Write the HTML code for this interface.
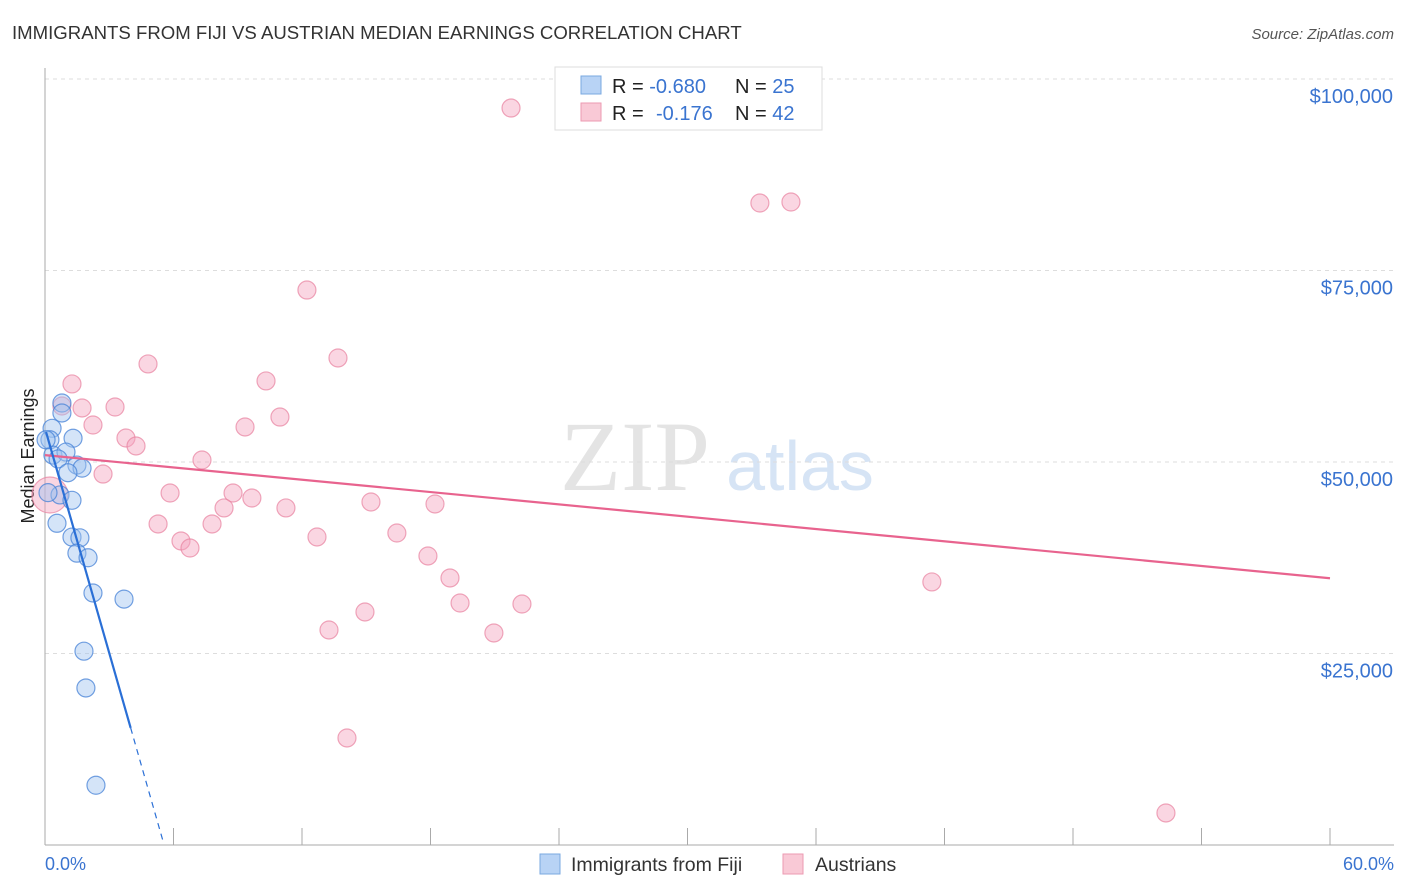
<!DOCTYPE html>
<html><head><meta charset="utf-8"><style>
body{margin:0;background:#fff;font-family:"Liberation Sans",sans-serif;}
svg{display:block}
</style></head><body>
<svg width="1406" height="892" xmlns="http://www.w3.org/2000/svg" id="chart">
<text x="12" y="39" font-size="18.6" fill="#333">IMMIGRANTS FROM FIJI VS AUSTRIAN MEDIAN EARNINGS CORRELATION CHART</text>
<text x="1394" y="39" font-size="15" fill="#555" text-anchor="end" font-style="italic">Source: ZipAtlas.com</text>
<text x="635" y="490" font-size="100" fill="#e4e4e4" font-family="Liberation Serif,serif" text-anchor="middle">ZIP</text>
<text x="800" y="490" font-size="70" fill="#d6e4f5" text-anchor="middle">atlas</text>
<g id="grid"></g>
<line x1="45" y1="68" x2="45" y2="845" stroke="#aaa"/>
<line x1="45" y1="845" x2="1394" y2="845" stroke="#aaa"/>
<text x="34" y="456" font-size="18" fill="#222" text-anchor="middle" transform="rotate(-90 34 456)">Median Earnings</text>
<text x="45" y="870" font-size="18" fill="#3a74d0">0.0%</text>
<text x="1394" y="870" font-size="18" fill="#3a74d0" text-anchor="end">60.0%</text>
<g id="marks"></g>
<g>
<rect x="555" y="67" width="267" height="63" fill="#fff" stroke="#ddd"/>
<rect x="581" y="76" width="20" height="18" fill="#b8d3f5" stroke="#7aa8e0"/>
<rect x="581" y="103" width="20" height="18" fill="#f9c9d6" stroke="#ec9ab2"/>
<text x="612" y="93" font-size="20" fill="#222">R = <tspan fill="#3a74d0">-0.680</tspan><tspan x="735">N = </tspan><tspan fill="#3a74d0">25</tspan></text>
<text x="612" y="120" font-size="20" fill="#222">R = <tspan x="656" fill="#3a74d0">-0.176</tspan><tspan x="735">N = </tspan><tspan fill="#3a74d0">42</tspan></text>
</g>
<g>
<rect x="540" y="854" width="20" height="20" fill="#b8d3f5" stroke="#7aa8e0"/>
<text x="571" y="871" font-size="19.5" fill="#333">Immigrants from Fiji</text>
<rect x="783" y="854" width="20" height="20" fill="#f9c9d6" stroke="#ec9ab2"/>
<text x="815" y="871" font-size="19.5" fill="#333">Austrians</text>
</g>
</svg>
<script>
const yTicks=[25000,50000,75000,100000];
const yTickLabels=["$25,000","$50,000","$75,000","$100,000"];
const xTicks=[6,12,18,24,30,36,42,48,54,60];
const fijiX=[0.79,0.79,0.33,1.31,0.23,0.37,0.98,0.61,1.49,1.73,1.07,0.70,1.26,0.14,0.56,1.26,1.63,1.49,2.01,2.24,3.69,1.82,1.91,2.38,0.05];
const fijiY=[57700,56400,54400,53100,52900,50900,51300,50400,49600,49200,48600,45700,45000,46000,42000,40200,40100,38100,37500,32900,32100,25300,20500,7800,52900];
const ausX=[21.76,33.38,34.83,12.23,13.68,4.81,10.32,1.26,0.79,1.73,3.27,10.97,2.24,9.34,3.78,4.25,7.33,2.71,5.84,8.78,9.66,15.22,18.21,8.36,11.25,5.28,7.80,6.35,12.70,16.43,6.77,17.88,18.91,41.41,19.38,22.27,14.94,13.26,20.96,14.10,52.34,0.23];
const ausY=[96210,83810,83940,72450,63580,62800,60580,60190,57310,57050,57180,55870,54830,54570,53130,52090,50260,48430,45950,45950,45300,44780,44520,44000,44000,41910,41910,39690,40210,40730,38770,37730,34860,34340,31590,31460,30420,28070,27680,13970,4180,45690];
const fijiTrend=[54400,-9780];
const ausTrend=[50900,-268];
const NS="http://www.w3.org/2000/svg";
const X=v=>45+v/6*128.5;
const Y=v=>845-v/25000*191.5;
const grid=document.getElementById('grid'),marks=document.getElementById('marks');
function mk(tag,attrs,parent){const e=document.createElementNS(NS,tag);for(const k in attrs)e.setAttribute(k,attrs[k]);parent.appendChild(e);return e;}
yTicks.forEach((t,i)=>{
 const l=mk('line',{x1:45,x2:1394,y1:Y(t),y2:Y(t),stroke:'#ddd','stroke-dasharray':'4,4'},grid);
 
 
 const tx=mk('text',{x:1393,y:Y(t)+24,'font-size':20,fill:'#3a74d0','text-anchor':'end'},grid);
 tx.textContent=yTickLabels[i];
 
 
});
xTicks.forEach(t=>{
 const l=mk('line',{x1:X(t),x2:X(t),y1:828,y2:845,stroke:'#aaa'},grid);
 
 
});
ausX.forEach((x,i)=>{
 const c=mk('circle',{cx:X(x),cy:Y(ausY[i]),r:i==ausX.length-1?18:9,fill:'rgba(245,165,190,0.45)',stroke:'rgba(232,130,160,0.7)','stroke-width':1.2},marks);
 
 
});
fijiX.forEach((x,i)=>{
 const c=mk('circle',{cx:X(x),cy:Y(fijiY[i]),r:9,fill:'rgba(160,195,240,0.45)',stroke:'rgba(70,130,215,0.75)','stroke-width':1.2},marks);
 
 
});
let l=mk('line',{x1:X(0),y1:Y(ausTrend[0]),x2:X(60),y2:Y(ausTrend[0]+ausTrend[1]*60),stroke:'#e8638e','stroke-width':2.2},marks);


l=mk('line',{x1:X(0.05),y1:Y(fijiTrend[0]+fijiTrend[1]*0.05),x2:X(4),y2:Y(fijiTrend[0]+fijiTrend[1]*4),stroke:'#2a6fd6','stroke-width':2.2},marks);


l=mk('line',{x1:X(4),y1:Y(fijiTrend[0]+fijiTrend[1]*4),x2:X(5.53),y2:Y(fijiTrend[0]+fijiTrend[1]*5.53),stroke:'#2a6fd6','stroke-width':1.2,'stroke-dasharray':'6,5'},marks);


</script>
</body></html>
